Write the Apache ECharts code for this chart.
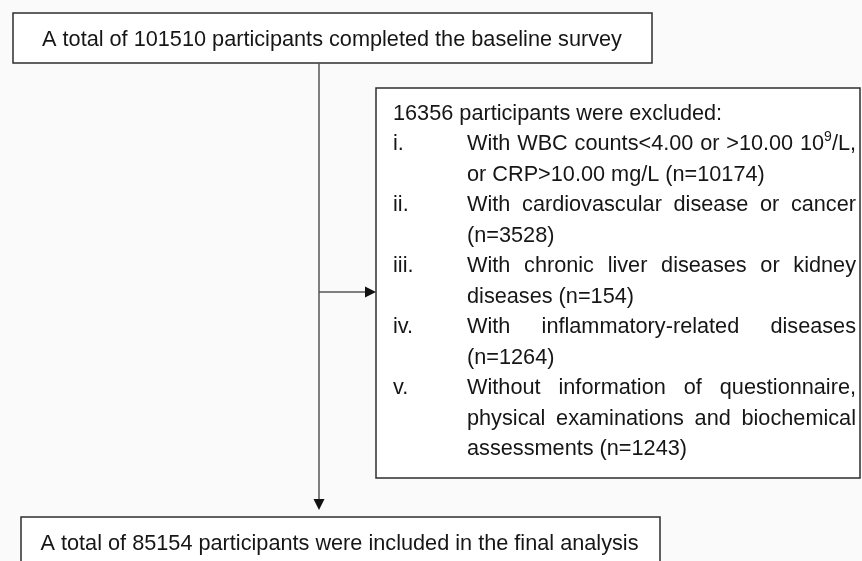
<!DOCTYPE html>
<html>
<head>
<meta charset="utf-8">
<script src="https://cdn.jsdelivr.net/npm/echarts@6/dist/echarts.min.js"></script>
<style>
html,body{margin:0;padding:0;background:#fafafa;}
#c{width:862px;height:561px;}
</style>
</head>
<body>
<div id="c"></div>
<script>
// ---- Data ----
const totalBaseline = 101510;
const excludedTotal = 16356;
const reasonLabels = ['i.', 'ii.', 'iii.', 'iv.', 'v.'];
const reasonCounts = [10174, 3528, 154, 1264, 1243];
const reasonLines = [
  ['With WBC counts<4.00 or >10.00 10^9/L,', 'or CRP>10.00 mg/L (n={n})'],
  ['With cardiovascular disease or cancer', '(n={n})'],
  ['With chronic liver diseases or kidney', 'diseases (n={n})'],
  ['With inflammatory-related diseases', '(n={n})'],
  ['Without information of questionnaire,', 'physical examinations and biochemical', 'assessments (n={n})']
];
const finalIncluded = 85154;

// ---- Style / layout ----
const FONT_FAMILY = '"Liberation Sans", Arial, Helvetica, sans-serif';
const FS = 21.7;
const SUP_FS = 14;
const TEXT_COLOR = '#161616';
const BOX_STROKE = '#2e2e2e';
const LINE_COLOR = '#555555';
const TEXT_DY = 2;

const topBox = {x: 13, y: 13, w: 639, h: 50};
const exclBox = {x: 376, y: 88, w: 484, h: 390};
const botBox = {x: 21, y: 517, w: 639, h: 70};
const trunkX = 319;
const branchY = 292;
const lineStart = 112, lineStep = 30.5;
const labelX = 393, itemX = 467, rightX = 856;

const ctx = document.createElement('canvas').getContext('2d');
function measure(t, fs) { ctx.font = fs + 'px ' + FONT_FAMILY; return ctx.measureText(t).width; }
function wordSegs(word) {
  const m = word.match(/^(.*)\^(\d+)(.*)$/);
  if (!m) return [{t: word, sup: false}];
  return [{t: m[1], sup: false}, {t: m[2], sup: true}, {t: m[3], sup: false}].filter(s => s.t);
}
function segWidth(s) { return measure(s.t, s.sup ? SUP_FS : FS); }
function textEl(t, x, y, fs, align) {
  return {
    type: 'text', z: 10, silent: true,
    style: {
      text: t, x: x, y: y + TEXT_DY,
      font: fs + 'px ' + FONT_FAMILY,
      fill: TEXT_COLOR,
      align: align || 'left', verticalAlign: 'middle',
      textAlign: align || 'left', textVerticalAlign: 'middle'
    }
  };
}
function lineEls(text, x0, xR, y, justify) {
  const words = text.split(' ');
  const segsList = words.map(wordSegs);
  const widths = segsList.map(segs => segs.reduce((a, s) => a + segWidth(s), 0));
  const total = widths.reduce((a, b) => a + b, 0);
  let gap = measure(' ', FS);
  if (justify && words.length > 1) gap = (xR - x0 - total) / (words.length - 1);
  const els = [];
  let x = x0;
  segsList.forEach((segs, i) => {
    let sx = x;
    segs.forEach(s => {
      els.push(textEl(s.t, sx, s.sup ? y - 7 : y, s.sup ? SUP_FS : FS, 'left'));
      sx += segWidth(s);
    });
    x += widths[i] + gap;
  });
  return els;
}
function rectEl(b) {
  return {type: 'rect', z: 1, silent: true, shape: {x: b.x, y: b.y, width: b.w, height: b.h},
    style: {fill: '#ffffff', stroke: BOX_STROKE, lineWidth: 1.5}};
}

const elements = [];
elements.push(rectEl(topBox), rectEl(exclBox), rectEl(botBox));

// connectors
elements.push({type: 'line', z: 2, silent: true,
  shape: {x1: trunkX, y1: topBox.y + topBox.h, x2: trunkX, y2: botBox.y - 17},
  style: {stroke: LINE_COLOR, lineWidth: 1.5}});
elements.push({type: 'polygon', z: 3, silent: true,
  shape: {points: [[trunkX - 5.5, botBox.y - 18], [trunkX + 5.5, botBox.y - 18], [trunkX, botBox.y - 7]]},
  style: {fill: '#111'}});
elements.push({type: 'line', z: 2, silent: true,
  shape: {x1: trunkX, y1: branchY, x2: exclBox.x - 10, y2: branchY},
  style: {stroke: LINE_COLOR, lineWidth: 1.5}});
elements.push({type: 'polygon', z: 3, silent: true,
  shape: {points: [[exclBox.x - 11, branchY - 5.5], [exclBox.x - 11, branchY + 5.5], [exclBox.x, branchY]]},
  style: {fill: '#111'}});

// box texts
elements.push(textEl('A total of ' + totalBaseline + ' participants completed the baseline survey',
  topBox.x + topBox.w / 2 - 0.5, topBox.y + topBox.h / 2, FS, 'center'));
elements.push(textEl('A total of ' + finalIncluded + ' participants were included in the final analysis',
  botBox.x + botBox.w / 2 - 1, 542, FS, 'center'));

// exclusion list
let row = 0;
elements.push(textEl(excludedTotal + ' participants were excluded:', labelX, lineStart, FS, 'left'));
row++;
reasonLines.forEach((lines, k) => {
  elements.push(textEl(reasonLabels[k], labelX, lineStart + row * lineStep, FS, 'left'));
  lines.forEach((ln, j) => {
    const txt = ln.replace('{n}', reasonCounts[k]);
    const justify = j < lines.length - 1;
    elements.push(...lineEls(txt, itemX, rightX, lineStart + row * lineStep, justify));
    row++;
  });
});

const chart = echarts.init(document.getElementById('c'));
chart.setOption({
  backgroundColor: '#fafafa',
  animation: false,
  graphic: {elements: elements}
});
</script>
</body>
</html>
